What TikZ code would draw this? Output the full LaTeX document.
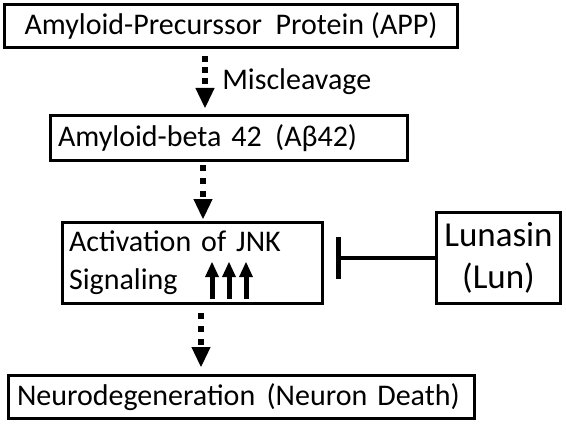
\documentclass[tikz,border=0pt]{standalone}
\usepackage{fontspec}
\setmainfont{Carlito}
\usetikzlibrary{arrows.meta}
\begin{document}
\begin{tikzpicture}[x=0.75pt,y=-0.75pt,
  box/.style={draw, line width=2pt, inner sep=0pt},
  txt/.style={font=\fontsize{22.5pt}{28.5pt}\selectfont},
  dotarr/.style={line width=4.5pt, dash pattern=on 4.5pt off #1,
    -{Triangle[width=14.5pt,length=15pt,line width=0pt]}},
  uparr/.style={line width=3.75pt, -{Triangle[width=10.5pt,length=11.25pt,line width=0pt]}},
  inhib/.style={line width=3.4pt, -{Bar[width=31.5pt,line width=3.75pt]}}
]
\useasboundingbox (0,0) rectangle (566,424);

\node[box, txt, minimum width=340pt, minimum height=32.5pt, align=center] (app) at (231,26) {Amyloid-Precurssor\ \ Protein (APP)};
\node[box, txt, minimum height=34pt, text width=256.5pt, inner xsep=5.75pt, align=left] (ab) at (229,138) {\mbox{Amyloid-beta 42 \hspace{2.5pt}(Aβ42)}};
\node[box, txt, minimum height=61pt, text width=185.25pt, inner xsep=5pt, align=left] (jnk) at (192.5,263) {Activation of JNK\\Signaling};
\node[box, font=\fontsize{26.25pt}{31.5pt}\selectfont, minimum width=93.25pt, minimum height=68.5pt, align=center] (lun) at (498.5,258) {Lunasin\\(Lun)};
\node[box, txt, minimum height=32.5pt, text width=336.75pt, inner xsep=6.5pt, align=left] (neuro) at (241.5,397) {\mbox{Neurodegeneration \hspace{1pt}(Neuron Death)}};

\node[txt, anchor=base west, inner sep=0pt] (mis) at (222,90) {Miscleavage};

\coordinate (x1) at (205,0);
\coordinate (x2) at (203,0);
\coordinate (x3) at (201,0);
\coordinate (barx) at (336,0);

\draw[dotarr=3.75pt, shorten <=5.25pt, shorten >=4.5pt] (app.south -| x1) -- (ab.north -| x1);
\draw[dotarr=5.25pt, shorten <=2.25pt, shorten >=1.5pt] (ab.south -| x2) -- (jnk.north -| x2);
\draw[dotarr=5.25pt, shorten <=6pt, shorten >=5.25pt] (jnk.south -| x3) -- (neuro.north -| x3);

\draw[inhib] (lun.west) -- (lun.west -| barx);

\foreach \x [count=\i] in {212,229,246} {
  \coordinate (u\i a) at (\x,299);
  \coordinate (u\i b) at (\x,262);
  \draw[uparr] (u\i a) -- (u\i b);
}
\end{tikzpicture}
\end{document}
